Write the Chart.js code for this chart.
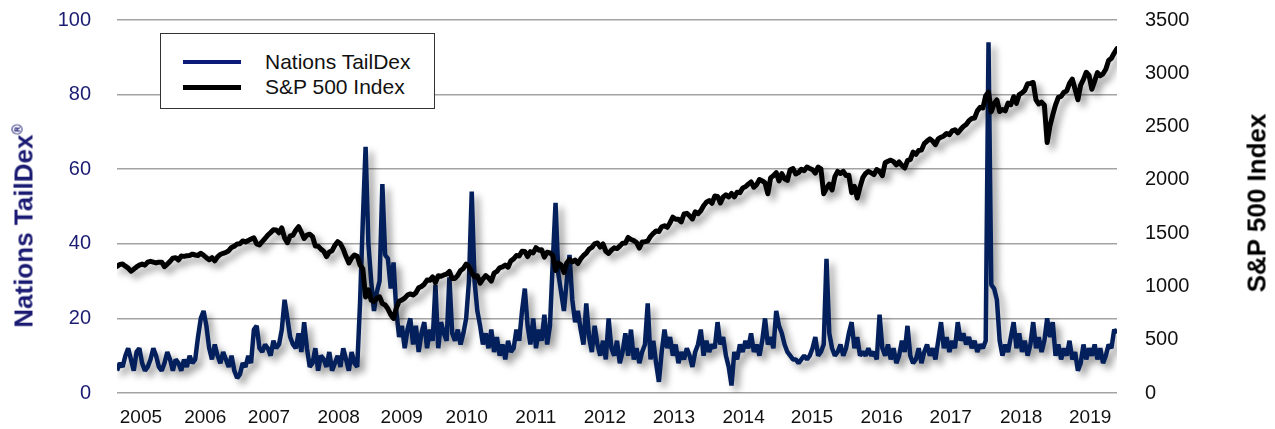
<!DOCTYPE html>
<html>
<head>
<meta charset="utf-8">
<script src="https://cdn.jsdelivr.net/npm/chart.js@4.4.1/dist/chart.umd.min.js"></script>
<style>
  html, body { margin: 0; padding: 0; background: #fff; }
  #wrap { position: relative; width: 1275px; height: 429px; font-family: 'Liberation Sans', Arial, sans-serif; }
  #chart { position: absolute; left: 0; top: 0; }
  .ytitle { position: absolute; white-space: nowrap; font-weight: bold; font-size: 26px; transform: translate(-50%, -50%) rotate(-90deg); }
  .ytitle sup { font-size: 14px; }
  #legend { position: absolute; left: 160px; top: 33px; width: 273px; height: 74px; border: 1.5px solid #333; background: #fff; }
  #legend .row { position: absolute; left: 0; height: 25px; }
  #legend .swatch { position: absolute; left: 22px; width: 58px; }
  #legend .label { position: absolute; left: 104px; top: 0; font-size: 21px; line-height: 25px; white-space: nowrap; color: #111; }
</style>
</head>
<body>
<div id="wrap">
  <canvas id="chart" width="1275" height="429"></canvas>
  <div class="ytitle" style="left:24px; top:226px; color:#1a1a72;">Nations TailDex<sup>®</sup></div>
  <div class="ytitle" style="left:1257px; top:203px; color:#000;">S&amp;P 500 Index</div>
  <div id="legend">
    <div class="row" style="top:15px;"><div class="swatch" style="top:11px; height:4px; background:#0c1a78;"></div><div class="label">Nations TailDex</div></div>
    <div class="row" style="top:40px;"><div class="swatch" style="top:11px; height:5px; background:#000;"></div><div class="label">S&amp;P 500 Index</div></div>
  </div>
</div>
<script>
// half-monthly samples, Feb 2005 .. Jan 2020
const startYear = 2005 + 1 / 12;
const stepYears = 1 / 24;

const taildex = [
  6, 8, 7, 10, 12, 9, 6, 11, 12, 8, 6, 7, 9, 12, 10, 7, 6, 8, 11, 9, 6, 9,
  8, 6, 9, 7, 10, 8, 9, 15, 20, 22, 18, 12, 9, 13, 10, 8, 11, 9, 7, 10, 6, 4, 5, 8,
  7, 10, 8, 17, 18, 12, 11, 13, 12, 10, 14, 12, 13, 17, 25, 20, 15, 13, 12, 16, 11, 19, 12, 7,
  8, 12, 6, 10, 9, 7, 11, 6, 8, 10, 7, 12, 9, 6, 11, 8, 7, 24, 46, 66, 40, 30, 22, 27,
  30, 56, 37, 36, 28, 35, 22, 15, 18, 12, 17, 20, 13, 18, 11, 16, 19, 12, 17, 14, 29, 12, 19, 16,
  14, 31, 16, 14, 17, 13, 16, 20, 30, 54, 30, 22, 18, 13, 16, 12, 17, 11, 15, 10, 13, 9, 14, 11,
  12, 17, 14, 22, 28, 18, 13, 20, 12, 17, 14, 21, 13, 18, 35, 51, 32, 27, 22, 30, 37, 25, 19, 22,
  17, 13, 24, 15, 11, 18, 13, 10, 14, 9, 20, 12, 10, 14, 8, 11, 16, 10, 17, 9, 12, 8, 11, 13,
  24, 9, 14, 8, 3, 11, 17, 12, 15, 10, 13, 8, 11, 9, 12, 10, 7, 11, 13, 17, 10, 14, 11, 13,
  12, 19, 13, 15, 10, 7, 2, 11, 9, 13, 11, 14, 12, 16, 11, 13, 10, 14, 20, 13, 15, 12, 22, 18,
  16, 13, 11, 10, 9, 9, 8, 9, 10, 9, 10, 12, 15, 10, 11, 13, 36, 16, 12, 10, 11, 13, 10, 12,
  16, 19, 12, 15, 10, 11, 10, 12, 10, 11, 9, 21, 12, 10, 13, 9, 12, 8, 10, 14, 11, 18, 10, 8,
  9, 12, 8, 11, 13, 10, 12, 9, 14, 19, 12, 15, 11, 14, 12, 19, 14, 16, 13, 15, 12, 14, 11, 13,
  12, 14, 94, 29, 28, 25, 14, 10, 13, 11, 15, 19, 12, 16, 11, 14, 10, 13, 19, 12, 15, 11, 14, 20,
  15, 19, 10, 13, 9, 12, 10, 14, 9, 11, 6, 8, 13, 9, 12, 10, 13, 9, 12, 8, 10, 13, 12, 17,
  16
];

const sp500 = [
  1189, 1206, 1210, 1190, 1172, 1143, 1162, 1183, 1200, 1210, 1200, 1228, 1236, 1228, 1220, 1228, 1228, 1186, 1210, 1235, 1265, 1270,
  1248, 1285, 1282, 1288, 1291, 1303, 1295, 1290, 1311, 1292, 1270, 1250, 1270, 1240, 1277, 1300, 1311, 1320, 1335, 1366, 1378, 1398, 1400, 1427,
  1418, 1430, 1445, 1456, 1400, 1390, 1421, 1450, 1482, 1505, 1531, 1530, 1503, 1550, 1455, 1410, 1474, 1480, 1527, 1560, 1509, 1450, 1481, 1490,
  1468, 1380, 1378, 1350, 1331, 1280, 1323, 1335, 1386, 1420, 1400, 1350, 1280, 1220, 1267, 1295, 1283, 1200, 1165, 900, 969, 870, 860, 890,
  903, 840, 826, 790, 735, 700, 798, 860, 873, 890, 919, 930, 919, 940, 987, 1000, 1021, 1060, 1057, 1090, 1036, 1100, 1096, 1108,
  1115, 1140, 1074, 1075, 1104, 1150, 1169, 1210, 1187, 1130, 1089, 1100, 1031, 1070, 1102, 1080, 1049, 1125, 1141, 1175, 1183, 1200, 1181, 1240,
  1258, 1290, 1286, 1330, 1327, 1280, 1326, 1315, 1364, 1340, 1345, 1275, 1321, 1315, 1292, 1150, 1219, 1200, 1131, 1220, 1253, 1230, 1247, 1215,
  1258, 1290, 1312, 1350, 1366, 1400, 1408, 1370, 1398, 1330, 1310, 1340, 1362, 1355, 1379, 1405, 1407, 1460, 1441, 1430, 1412, 1360, 1416, 1420,
  1426, 1470, 1498, 1520, 1515, 1560, 1569, 1555, 1598, 1650, 1631, 1630, 1606, 1680, 1686, 1660, 1633, 1700, 1682, 1710, 1757, 1790, 1806, 1780,
  1848, 1845, 1783, 1840, 1859, 1840, 1872, 1840, 1884, 1880, 1924, 1935, 1960, 1980, 1931, 1955, 2003, 1990, 1972, 1870, 2018, 2040, 2068, 1990,
  2059, 2010, 1995, 2095, 2105, 2055, 2068, 2100, 2086, 2120, 2107, 2095, 2063, 2120, 2104, 1870, 1920, 1960, 1905, 2030, 2079, 2060, 2080, 2040,
  2044, 1880, 1940, 1830, 1932, 2020, 2060, 2080, 2065, 2050, 2097, 2080, 2040, 2160, 2174, 2185, 2171, 2140, 2168, 2135, 2111, 2180, 2191, 2260,
  2239, 2275, 2279, 2340, 2364, 2385, 2363, 2330, 2384, 2400, 2412, 2435, 2423, 2460, 2470, 2440, 2472, 2500, 2519, 2555, 2575, 2580, 2648, 2680,
  2674, 2790, 2824, 2640, 2714, 2750, 2641, 2660, 2648, 2720, 2705, 2780, 2718, 2800, 2816, 2840, 2902, 2905, 2914, 2750, 2712, 2730, 2700, 2350,
  2507, 2610, 2704, 2775, 2784, 2822, 2834, 2905, 2946, 2850, 2752, 2890, 2942, 3010, 2980, 2850, 2926, 3007, 2977, 2995, 3038, 3120, 3141, 3190,
  3231
];

const xTickLabels = ['2005', '2006', '2007', '2008', '2009', '2010', '2011', '2012', '2013', '2014', '2015', '2016', '2017', '2018', '2019'];
const xTickValues = [2005.44, 2006.40, 2007.35, 2008.39, 2009.33, 2010.30, 2011.33, 2012.36, 2013.39, 2014.43, 2015.45, 2016.49, 2017.52, 2018.57, 2019.60];

const toPoints = arr => arr.map((v, i) => ({ x: startYear + i * stepYears, y: v }));

const FONT = "'Liberation Sans', Arial, sans-serif";

// soft drop shadow under both lines
const shadowPlugin = {
  id: 'lineShadow',
  beforeDatasetDraw(chart) {
    const ctx = chart.ctx;
    ctx.save();
    ctx.shadowColor = 'rgba(0,0,0,0.38)';
    ctx.shadowBlur = 7;
    ctx.shadowOffsetX = 5;
    ctx.shadowOffsetY = 5;
  },
  afterDatasetDraw(chart) {
    chart.ctx.restore();
  }
};

new Chart(document.getElementById('chart'), {
  type: 'line',
  data: {
    datasets: [
      {
        label: 'S&P 500 Index',
        data: toPoints(sp500),
        yAxisID: 'y1',
        borderColor: '#000',
        borderWidth: 5,
        pointRadius: 0,
        tension: 0,
        borderJoinStyle: 'round',
        borderCapStyle: 'round',
        order: 0
      },
      {
        label: 'Nations TailDex',
        data: toPoints(taildex),
        yAxisID: 'y',
        borderColor: '#04205c',
        borderWidth: 4.5,
        pointRadius: 0,
        tension: 0,
        borderJoinStyle: 'bevel',
        borderCapStyle: 'butt',
        order: 1
      }
    ]
  },
  options: {
    responsive: false,
    animation: false,
    layout: { padding: { top: 20, left: 0, right: 0, bottom: 0 } },
    plugins: { legend: { display: false }, tooltip: { enabled: false } },
    scales: {
      x: {
        type: 'linear',
        min: startYear,
        max: 2020,
        grid: { display: false, drawTicks: false },
        border: { display: false },
        afterBuildTicks: scale => { scale.ticks = xTickValues.map(v => ({ value: v })); },
        afterFit: scale => { scale.height = 36; },
        ticks: {
          autoSkip: false,
          maxRotation: 0,
          padding: 13,
          color: '#111',
          font: { family: FONT, size: 19 },
          callback: (v, i) => xTickLabels[i]
        }
      },
      y: {
        position: 'left',
        min: 0,
        max: 100,
        grid: { color: '#a3a3a3', lineWidth: 1.5, drawTicks: true, tickLength: 26, tickColor: 'rgba(0,0,0,0)' },
        border: { display: false },
        afterFit: scale => { scale.width = 117; },
        ticks: {
          stepSize: 20,
          padding: 0,
          color: '#1c1c74',
          font: { family: FONT, size: 20 }
        }
      },
      y1: {
        position: 'right',
        min: 0,
        max: 3500,
        grid: { color: 'rgba(0,0,0,0)', drawOnChartArea: false, drawTicks: true, tickLength: 28, tickColor: 'rgba(0,0,0,0)' },
        border: { display: false },
        afterFit: scale => { scale.width = 158; },
        ticks: {
          stepSize: 500,
          padding: 0,
          color: '#111',
          font: { family: FONT, size: 20 },
          callback: v => String(v)
        }
      }
    }
  },
  plugins: [shadowPlugin]
});
</script>
</body>
</html>
